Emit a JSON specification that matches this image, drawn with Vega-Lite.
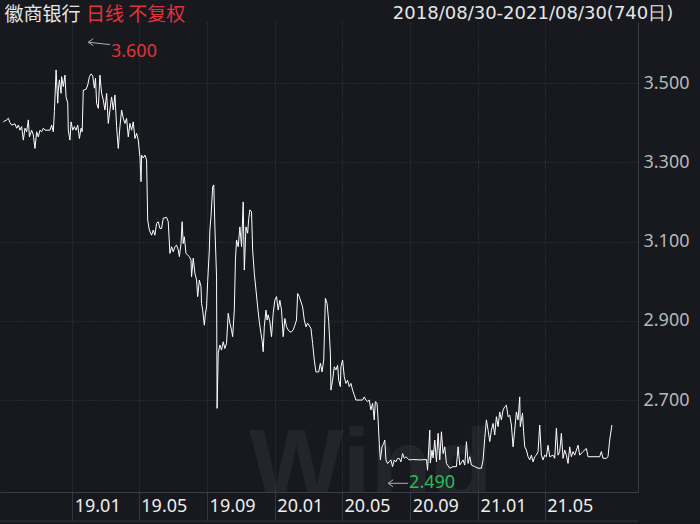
{
  "$schema": "https://vega.github.io/schema/vega-lite/v6.json",
  "width": 638,
  "height": 470,
  "autosize": {"type": "none"},
  "padding": {"left": 0, "top": 22, "right": 62, "bottom": 32},
  "background": "#17191e",
  "config": {"view": {"stroke": null}, "font": "Noto Sans"},
  "datasets": {
    "price": [
      {"date":"2018-08-30","close":3.402},{"date":"2018-09-05","close":3.407},{"date":"2018-09-08","close":3.411},{"date":"2018-09-11","close":3.400},{"date":"2018-09-14","close":3.394},{"date":"2018-09-20","close":3.397},{"date":"2018-09-23","close":3.386},{"date":"2018-09-26","close":3.394},{"date":"2018-09-29","close":3.381},{"date":"2018-10-02","close":3.390},{"date":"2018-10-05","close":3.356},{"date":"2018-10-08","close":3.386},{"date":"2018-10-11","close":3.377},{"date":"2018-10-14","close":3.407},{"date":"2018-10-16","close":3.364},{"date":"2018-10-20","close":3.381},{"date":"2018-10-23","close":3.369},{"date":"2018-10-26","close":3.335},{"date":"2018-10-29","close":3.377},{"date":"2018-11-01","close":3.364},{"date":"2018-11-04","close":3.381},{"date":"2018-11-07","close":3.377},{"date":"2018-11-10","close":3.386},{"date":"2018-11-13","close":3.381},{"date":"2018-11-22","close":3.381},{"date":"2018-11-25","close":3.394},{"date":"2018-11-28","close":3.377},{"date":"2018-11-30","close":3.428},{"date":"2018-12-03","close":3.533},{"date":"2018-12-06","close":3.449},{"date":"2018-12-07","close":3.482},{"date":"2018-12-09","close":3.508},{"date":"2018-12-12","close":3.474},{"date":"2018-12-13","close":3.516},{"date":"2018-12-16","close":3.491},{"date":"2018-12-19","close":3.520},{"date":"2018-12-21","close":3.465},{"date":"2018-12-24","close":3.449},{"date":"2018-12-25","close":3.381},{"date":"2018-12-28","close":3.356},{"date":"2018-12-30","close":3.402},
      {"date":"2019-01-02","close":3.381},{"date":"2019-01-05","close":3.390},{"date":"2019-01-08","close":3.381},{"date":"2019-01-11","close":3.394},{"date":"2019-01-14","close":3.360},{"date":"2019-01-17","close":3.386},{"date":"2019-01-19","close":3.377},{"date":"2019-01-21","close":3.482},{"date":"2019-01-26","close":3.484},{"date":"2019-01-29","close":3.495},{"date":"2019-02-01","close":3.516},{"date":"2019-02-04","close":3.523},{"date":"2019-02-07","close":3.518},{"date":"2019-02-10","close":3.487},{"date":"2019-02-12","close":3.512},{"date":"2019-02-14","close":3.449},{"date":"2019-02-17","close":3.436},{"date":"2019-02-20","close":3.520},{"date":"2019-02-23","close":3.474},{"date":"2019-02-26","close":3.457},{"date":"2019-03-01","close":3.432},{"date":"2019-03-04","close":3.474},{"date":"2019-03-07","close":3.398},{"date":"2019-03-10","close":3.432},{"date":"2019-03-13","close":3.465},{"date":"2019-03-16","close":3.432},{"date":"2019-03-19","close":3.470},{"date":"2019-03-22","close":3.390},{"date":"2019-03-25","close":3.335},{"date":"2019-03-28","close":3.390},{"date":"2019-03-31","close":3.432},{"date":"2019-04-03","close":3.411},{"date":"2019-04-06","close":3.398},{"date":"2019-04-09","close":3.411},{"date":"2019-04-12","close":3.364},{"date":"2019-04-15","close":3.398},{"date":"2019-04-18","close":3.381},{"date":"2019-04-21","close":3.402},{"date":"2019-04-24","close":3.360},{"date":"2019-04-27","close":3.373},{"date":"2019-04-30","close":3.356},
      {"date":"2019-05-03","close":3.314},{"date":"2019-05-05","close":3.251},{"date":"2019-05-06","close":3.318},{"date":"2019-05-09","close":3.311},{"date":"2019-05-12","close":3.318},{"date":"2019-05-15","close":3.306},{"date":"2019-05-17","close":3.154},{"date":"2019-05-20","close":3.129},{"date":"2019-05-24","close":3.116},{"date":"2019-05-27","close":3.129},{"date":"2019-05-30","close":3.116},{"date":"2019-06-02","close":3.146},{"date":"2019-06-05","close":3.150},{"date":"2019-06-08","close":3.133},{"date":"2019-06-11","close":3.133},{"date":"2019-06-14","close":3.159},{"date":"2019-06-20","close":3.161},{"date":"2019-06-23","close":3.150},{"date":"2019-06-26","close":3.070},{"date":"2019-06-29","close":3.087},{"date":"2019-07-02","close":3.074},{"date":"2019-07-05","close":3.087},{"date":"2019-07-08","close":3.091},{"date":"2019-07-11","close":3.079},{"date":"2019-07-13","close":3.062},{"date":"2019-07-16","close":3.095},{"date":"2019-07-18","close":3.150},{"date":"2019-07-20","close":3.095},{"date":"2019-07-22","close":3.112},{"date":"2019-07-25","close":3.070},{"date":"2019-07-28","close":3.066},{"date":"2019-07-31","close":3.062},{"date":"2019-08-03","close":3.053},{"date":"2019-08-04","close":3.011},{"date":"2019-08-07","close":3.058},{"date":"2019-08-10","close":3.020},{"date":"2019-08-13","close":3.003},{"date":"2019-08-15","close":2.961},{"date":"2019-08-18","close":3.003},{"date":"2019-08-21","close":2.986},{"date":"2019-08-22","close":2.944},{"date":"2019-08-24","close":2.927},{"date":"2019-08-27","close":2.889},{"date":"2019-08-29","close":2.919},{"date":"2019-08-31","close":2.935},
      {"date":"2019-09-02","close":2.999},{"date":"2019-09-05","close":3.079},{"date":"2019-09-06","close":3.129},{"date":"2019-09-08","close":3.163},{"date":"2019-09-11","close":3.238},{"date":"2019-09-13","close":3.243},{"date":"2019-09-15","close":3.137},{"date":"2019-09-18","close":3.011},{"date":"2019-09-19","close":2.679},{"date":"2019-09-21","close":2.818},{"date":"2019-09-24","close":2.839},{"date":"2019-09-27","close":2.826},{"date":"2019-09-30","close":2.847},{"date":"2019-10-03","close":2.830},{"date":"2019-10-06","close":2.843},{"date":"2019-10-09","close":2.919},{"date":"2019-10-12","close":2.894},{"date":"2019-10-15","close":2.877},{"date":"2019-10-17","close":2.860},{"date":"2019-10-20","close":2.927},{"date":"2019-10-22","close":3.053},{"date":"2019-10-24","close":3.104},{"date":"2019-10-27","close":3.087},{"date":"2019-10-30","close":3.137},{"date":"2019-11-02","close":3.087},{"date":"2019-11-05","close":3.200},{"date":"2019-11-07","close":3.028},{"date":"2019-11-10","close":3.137},{"date":"2019-11-13","close":3.121},{"date":"2019-11-15","close":3.159},{"date":"2019-11-17","close":3.180},{"date":"2019-11-20","close":3.175},{"date":"2019-11-22","close":3.079},{"date":"2019-11-25","close":3.020},{"date":"2019-11-28","close":2.978},{"date":"2019-12-01","close":2.935},{"date":"2019-12-04","close":2.898},{"date":"2019-12-07","close":2.868},{"date":"2019-12-09","close":2.851},{"date":"2019-12-11","close":2.822},{"date":"2019-12-13","close":2.885},{"date":"2019-12-16","close":2.927},{"date":"2019-12-18","close":2.902},{"date":"2019-12-20","close":2.915},{"date":"2019-12-23","close":2.898},{"date":"2019-12-26","close":2.860},{"date":"2019-12-29","close":2.919},
      {"date":"2020-01-01","close":2.952},{"date":"2020-01-04","close":2.961},{"date":"2020-01-07","close":2.927},{"date":"2020-01-10","close":2.952},{"date":"2020-01-13","close":2.927},{"date":"2020-01-16","close":2.860},{"date":"2020-01-19","close":2.906},{"date":"2020-01-22","close":2.885},{"date":"2020-01-25","close":2.877},{"date":"2020-01-28","close":2.872},{"date":"2020-01-31","close":2.872},{"date":"2020-02-03","close":2.877},{"date":"2020-02-06","close":2.889},{"date":"2020-02-09","close":2.902},{"date":"2020-02-11","close":2.969},{"date":"2020-02-14","close":2.961},{"date":"2020-02-20","close":2.935},{"date":"2020-02-23","close":2.902},{"date":"2020-02-26","close":2.885},{"date":"2020-02-29","close":2.894},{"date":"2020-03-06","close":2.881},{"date":"2020-03-09","close":2.843},{"date":"2020-03-12","close":2.801},{"date":"2020-03-15","close":2.771},{"date":"2020-03-20","close":2.771},{"date":"2020-03-23","close":2.793},{"date":"2020-03-26","close":2.771},{"date":"2020-03-29","close":2.801},{"date":"2020-04-01","close":2.957},{"date":"2020-04-04","close":2.944},{"date":"2020-04-07","close":2.898},{"date":"2020-04-10","close":2.818},{"date":"2020-04-11","close":2.725},{"date":"2020-04-14","close":2.750},{"date":"2020-04-17","close":2.784},{"date":"2020-04-20","close":2.776},{"date":"2020-04-23","close":2.788},{"date":"2020-04-25","close":2.750},{"date":"2020-04-28","close":2.734},{"date":"2020-04-29","close":2.784},
      {"date":"2020-05-02","close":2.801},{"date":"2020-05-05","close":2.759},{"date":"2020-05-08","close":2.742},{"date":"2020-05-11","close":2.750},{"date":"2020-05-14","close":2.734},{"date":"2020-05-17","close":2.742},{"date":"2020-05-20","close":2.725},{"date":"2020-05-23","close":2.713},{"date":"2020-05-26","close":2.700},{"date":"2020-06-07","close":2.700},{"date":"2020-06-10","close":2.708},{"date":"2020-06-13","close":2.700},{"date":"2020-06-16","close":2.696},{"date":"2020-06-19","close":2.700},{"date":"2020-06-22","close":2.675},{"date":"2020-06-25","close":2.692},{"date":"2020-06-28","close":2.650},{"date":"2020-06-30","close":2.696},{"date":"2020-07-03","close":2.692},{"date":"2020-07-05","close":2.650},{"date":"2020-07-07","close":2.591},{"date":"2020-07-09","close":2.549},{"date":"2020-07-12","close":2.582},{"date":"2020-07-15","close":2.591},{"date":"2020-07-17","close":2.599},{"date":"2020-07-19","close":2.549},{"date":"2020-07-22","close":2.540},{"date":"2020-07-25","close":2.544},{"date":"2020-07-28","close":2.549},{"date":"2020-07-31","close":2.532},{"date":"2020-08-03","close":2.549},{"date":"2020-08-06","close":2.544},{"date":"2020-08-09","close":2.553},{"date":"2020-08-12","close":2.553},{"date":"2020-08-15","close":2.544},{"date":"2020-08-18","close":2.565},{"date":"2020-08-21","close":2.553},{"date":"2020-08-24","close":2.557},{"date":"2020-08-30","close":2.549},
      {"date":"2020-09-05","close":2.550},{"date":"2020-09-18","close":2.549},{"date":"2020-09-30","close":2.550},{"date":"2020-10-02","close":2.523},{"date":"2020-10-06","close":2.624},{"date":"2020-10-07","close":2.541},{"date":"2020-10-10","close":2.574},{"date":"2020-10-12","close":2.554},{"date":"2020-10-15","close":2.599},{"date":"2020-10-18","close":2.544},{"date":"2020-10-21","close":2.616},{"date":"2020-10-24","close":2.549},{"date":"2020-10-27","close":2.620},{"date":"2020-10-30","close":2.565},{"date":"2020-11-02","close":2.582},{"date":"2020-11-05","close":2.540},{"date":"2020-11-11","close":2.528},{"date":"2020-11-17","close":2.532},{"date":"2020-11-23","close":2.532},{"date":"2020-11-26","close":2.582},{"date":"2020-11-29","close":2.536},{"date":"2020-12-05","close":2.549},{"date":"2020-12-08","close":2.536},{"date":"2020-12-11","close":2.595},{"date":"2020-12-14","close":2.540},{"date":"2020-12-17","close":2.557},{"date":"2020-12-20","close":2.536},{"date":"2020-12-26","close":2.532},
      {"date":"2021-01-01","close":2.528},{"date":"2021-01-07","close":2.528},{"date":"2021-01-10","close":2.549},{"date":"2021-01-13","close":2.603},{"date":"2021-01-16","close":2.650},{"date":"2021-01-19","close":2.624},{"date":"2021-01-22","close":2.595},{"date":"2021-01-25","close":2.624},{"date":"2021-01-28","close":2.641},{"date":"2021-01-31","close":2.612},{"date":"2021-02-03","close":2.658},{"date":"2021-02-06","close":2.633},{"date":"2021-02-09","close":2.670},{"date":"2021-02-12","close":2.650},{"date":"2021-02-15","close":2.675},{"date":"2021-02-18","close":2.683},{"date":"2021-02-21","close":2.687},{"date":"2021-02-24","close":2.658},{"date":"2021-02-27","close":2.662},{"date":"2021-03-02","close":2.637},{"date":"2021-03-05","close":2.582},{"date":"2021-03-08","close":2.624},{"date":"2021-03-11","close":2.670},{"date":"2021-03-14","close":2.650},{"date":"2021-03-17","close":2.708},{"date":"2021-03-18","close":2.633},{"date":"2021-03-22","close":2.667},{"date":"2021-03-24","close":2.620},{"date":"2021-03-26","close":2.582},{"date":"2021-03-29","close":2.574},{"date":"2021-04-01","close":2.557},{"date":"2021-04-04","close":2.549},{"date":"2021-04-07","close":2.561},{"date":"2021-04-10","close":2.544},{"date":"2021-04-13","close":2.557},{"date":"2021-04-16","close":2.561},{"date":"2021-04-19","close":2.570},{"date":"2021-04-22","close":2.637},{"date":"2021-04-25","close":2.561},{"date":"2021-04-28","close":2.549},
      {"date":"2021-05-01","close":2.561},{"date":"2021-05-04","close":2.557},{"date":"2021-05-07","close":2.586},{"date":"2021-05-10","close":2.557},{"date":"2021-05-16","close":2.561},{"date":"2021-05-19","close":2.553},{"date":"2021-05-22","close":2.629},{"date":"2021-05-25","close":2.561},{"date":"2021-05-28","close":2.570},{"date":"2021-05-31","close":2.616},{"date":"2021-06-03","close":2.553},{"date":"2021-06-06","close":2.574},{"date":"2021-06-09","close":2.561},{"date":"2021-06-12","close":2.540},{"date":"2021-06-15","close":2.582},{"date":"2021-06-18","close":2.557},{"date":"2021-06-21","close":2.570},{"date":"2021-06-24","close":2.561},{"date":"2021-06-30","close":2.586},{"date":"2021-07-03","close":2.561},{"date":"2021-07-09","close":2.570},{"date":"2021-07-15","close":2.578},{"date":"2021-07-18","close":2.557},{"date":"2021-07-27","close":2.557},{"date":"2021-08-08","close":2.557},{"date":"2021-08-11","close":2.570},{"date":"2021-08-14","close":2.553},{"date":"2021-08-20","close":2.553},{"date":"2021-08-23","close":2.557},{"date":"2021-08-26","close":2.599},{"date":"2021-08-30","close":2.637}
    ],
    "extremes": [
      {"kind":"high","date":"2019-01-30","close":3.603,"date2":"2019-03-10","close2":3.597,"label":"3.600"},
      {"kind":"low","date":"2020-07-23","close":2.490,"date2":"2020-08-28","close2":2.490,"label":"2.490"}
    ]
  },
  "layer": [
    {
      "data": {"values": [{}]},
      "mark": {"type": "text", "text": "Wind", "fontSize": 100, "fontWeight": "bold", "font": "Liberation Sans", "fill": "#ffffff", "opacity": 0.05, "align": "center", "baseline": "alphabetic", "clip": true},
      "encoding": {
        "x": {"datum": {"year": 2020, "month": 6, "date": 22, "utc": true}, "type": "temporal"},
        "y": {"datum": 2.45, "type": "quantitative"}
      }
    },
    {
      "data": {"name": "price"},
      "mark": {"type": "line", "stroke": "#ffffff", "strokeWidth": 1, "interpolate": "linear"},
      "encoding": {
        "x": {
          "field": "date", "type": "temporal",
          "scale": {"type": "utc", "domain": [{"year": 2018, "month": 8, "date": 24, "utc": true}, {"year": 2021, "month": 10, "date": 16, "utc": true}]},
          "axis": {
            "orient": "bottom", "title": null,
            "values": [
              {"year": 2019, "month": 1, "date": 1, "utc": true},
              {"year": 2019, "month": 5, "date": 1, "utc": true},
              {"year": 2019, "month": 9, "date": 1, "utc": true},
              {"year": 2020, "month": 1, "date": 1, "utc": true},
              {"year": 2020, "month": 5, "date": 1, "utc": true},
              {"year": 2020, "month": 9, "date": 1, "utc": true},
              {"year": 2021, "month": 1, "date": 1, "utc": true},
              {"year": 2021, "month": 5, "date": 1, "utc": true}
            ],
            "labelExpr": "utcFormat(datum.value, '%y.%m')",
            "grid": true, "gridColor": "#3a3d45", "gridDash": [1, 2], "gridWidth": 1,
            "tickSize": 29, "tickColor": "#33363d", "domainColor": "#3a3d45",
            "labelAlign": "left", "labelBaseline": "middle", "labelPadding": -15, "labelOffset": 2,
            "labelColor": "#eeeeee", "labelFontSize": 18, "labelFont": "Noto Sans",
            "labelFlush": false, "labelOverlap": false, "labelBound": false
          }
        },
        "y": {
          "field": "close", "type": "quantitative",
          "scale": {"domain": [2.468, 3.654], "nice": false, "zero": false},
          "axis": {
            "orient": "right", "title": null, "values": [2.7, 2.9, 3.1, 3.3, 3.5], "format": ".3f",
            "grid": true, "gridColor": "#3a3d45", "gridDash": [1, 2],
            "ticks": false, "domainColor": "#3a3d45",
            "labelColor": "#b8b8b8", "labelFontSize": 18, "labelFont": "Noto Sans", "labelPadding": 5
          }
        }
      }
    },
    {
      "data": {"values": [{}]},
      "mark": {"type": "rule", "stroke": "#33363d", "strokeWidth": 1},
      "encoding": {
        "x": {"datum": {"year": 2018, "month": 8, "date": 24, "utc": true}, "type": "temporal"},
        "x2": {"datum": {"year": 2021, "month": 10, "date": 16, "utc": true}},
        "y": {"datum": 2.3946, "type": "quantitative"}
      }
    },
    {
      "data": {"name": "extremes"},
      "mark": {"type": "rule", "stroke": "#b0b0b0", "strokeWidth": 1},
      "encoding": {
        "x": {"field": "date", "type": "temporal"},
        "x2": {"field": "date2"},
        "y": {"field": "close", "type": "quantitative"},
        "y2": {"field": "close2"}
      }
    },
    {
      "data": {"name": "extremes"},
      "mark": {"type": "point", "shape": "M0,0L1,-0.7M0,0L1,0.7", "size": 100, "filled": false, "stroke": "#b0b0b0", "strokeWidth": 1, "opacity": 1},
      "encoding": {
        "x": {"field": "date", "type": "temporal"},
        "y": {"field": "close", "type": "quantitative"}
      }
    },
    {
      "data": {"name": "extremes"},
      "transform": [{"filter": "datum.kind === 'high'"}],
      "mark": {"type": "text", "align": "left", "baseline": "middle", "dx": 1, "dy": 7, "fontSize": 18, "font": "Noto Sans", "fill": "#e0333a"},
      "encoding": {
        "x": {"field": "date2", "type": "temporal"},
        "y": {"field": "close2", "type": "quantitative"},
        "text": {"field": "label"}
      }
    },
    {
      "data": {"name": "extremes"},
      "transform": [{"filter": "datum.kind === 'low'"}],
      "mark": {"type": "text", "align": "left", "baseline": "middle", "dx": 1, "fontSize": 18, "font": "Noto Sans", "fill": "#2dbb57"},
      "encoding": {
        "x": {"field": "date2", "type": "temporal"},
        "y": {"field": "close2", "type": "quantitative"},
        "text": {"field": "label"}
      }
    },
    {
      "data": {"values": [{}]},
      "mark": {"type": "text", "text": "徽商银行", "align": "left", "baseline": "middle", "fontSize": 19, "font": "Noto Sans CJK SC", "fill": "#e6e6e6"},
      "encoding": {
        "x": {"datum": {"year": 2018, "month": 9, "date": 1, "utc": true}, "type": "temporal"},
        "y": {"datum": 3.672, "type": "quantitative"}
      }
    },
    {
      "data": {"values": [{}]},
      "mark": {"type": "text", "text": "日线 不复权", "align": "left", "baseline": "middle", "fontSize": 19, "font": "Noto Sans CJK SC", "fill": "#e0333a"},
      "encoding": {
        "x": {"datum": {"year": 2019, "month": 1, "date": 26, "utc": true}, "type": "temporal"},
        "y": {"datum": 3.672, "type": "quantitative"}
      }
    },
    {
      "data": {"values": [{}]},
      "mark": {"type": "text", "text": "2018/08/30-2021/08/30(740日)", "align": "center", "baseline": "middle", "fontSize": 18, "font": "DejaVu Sans", "fill": "#e6e6e6"},
      "encoding": {
        "x": {"datum": {"year": 2021, "month": 4, "date": 10, "utc": true}, "type": "temporal"},
        "y": {"datum": 3.674, "type": "quantitative"}
      }
    }
  ]
}
